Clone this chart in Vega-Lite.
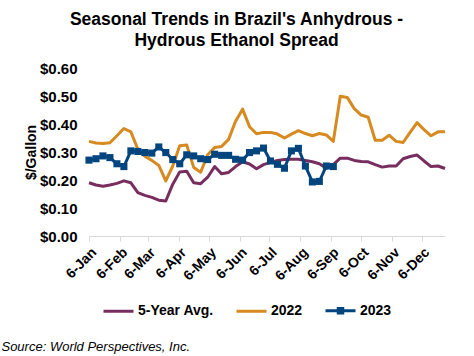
{
  "$schema": "https://vega.github.io/schema/vega-lite/v6.json",
  "background": "white",
  "padding": {"left": 1, "top": 10, "right": 5, "bottom": 5},
  "title": {"text": "Source: World Perspectives, Inc.", "orient": "bottom", "anchor": "start", "frame": "bounds", "font": "Liberation Sans", "fontSize": 13, "fontStyle": "italic", "fontWeight": "normal", "color": "#000000", "offset": 22, "dx": -23},
  "vconcat": [
    {
      "width": 356,
      "height": 168,
      "title": {"text": ["Seasonal Trends in Brazil's Anhydrous -", "Hydrous Ethanol Spread"], "font": "Liberation Sans", "fontSize": 17.5, "fontWeight": "bold", "color": "#000000", "anchor": "middle", "frame": "bounds", "lineHeight": 21, "offset": 12, "dx": 1},
      "data": {
        "values": [
          {"d":"2023-01-06","s":"5-Year Avg.","v":0.19},{"d":"2023-01-13","s":"5-Year Avg.","v":0.182},{"d":"2023-01-20","s":"5-Year Avg.","v":0.178},{"d":"2023-01-27","s":"5-Year Avg.","v":0.182},{"d":"2023-02-03","s":"5-Year Avg.","v":0.188},{"d":"2023-02-10","s":"5-Year Avg.","v":0.197},{"d":"2023-02-17","s":"5-Year Avg.","v":0.19},{"d":"2023-02-24","s":"5-Year Avg.","v":0.155},{"d":"2023-03-03","s":"5-Year Avg.","v":0.145},{"d":"2023-03-10","s":"5-Year Avg.","v":0.138},{"d":"2023-03-17","s":"5-Year Avg.","v":0.128},{"d":"2023-03-24","s":"5-Year Avg.","v":0.125},{"d":"2023-03-31","s":"5-Year Avg.","v":0.185},{"d":"2023-04-07","s":"5-Year Avg.","v":0.229},{"d":"2023-04-14","s":"5-Year Avg.","v":0.231},{"d":"2023-04-21","s":"5-Year Avg.","v":0.19},{"d":"2023-04-28","s":"5-Year Avg.","v":0.187},{"d":"2023-05-05","s":"5-Year Avg.","v":0.21},{"d":"2023-05-12","s":"5-Year Avg.","v":0.248},{"d":"2023-05-19","s":"5-Year Avg.","v":0.222},{"d":"2023-05-26","s":"5-Year Avg.","v":0.227},{"d":"2023-06-02","s":"5-Year Avg.","v":0.248},{"d":"2023-06-09","s":"5-Year Avg.","v":0.265},{"d":"2023-06-16","s":"5-Year Avg.","v":0.257},{"d":"2023-06-23","s":"5-Year Avg.","v":0.24},{"d":"2023-06-30","s":"5-Year Avg.","v":0.255},{"d":"2023-07-07","s":"5-Year Avg.","v":0.263},{"d":"2023-07-14","s":"5-Year Avg.","v":0.27},{"d":"2023-07-21","s":"5-Year Avg.","v":0.273},{"d":"2023-07-28","s":"5-Year Avg.","v":0.274},{"d":"2023-08-04","s":"5-Year Avg.","v":0.274},{"d":"2023-08-11","s":"5-Year Avg.","v":0.27},{"d":"2023-08-18","s":"5-Year Avg.","v":0.265},{"d":"2023-08-25","s":"5-Year Avg.","v":0.258},{"d":"2023-09-01","s":"5-Year Avg.","v":0.242},{"d":"2023-09-08","s":"5-Year Avg.","v":0.255},{"d":"2023-09-15","s":"5-Year Avg.","v":0.278},{"d":"2023-09-22","s":"5-Year Avg.","v":0.278},{"d":"2023-09-29","s":"5-Year Avg.","v":0.27},{"d":"2023-10-06","s":"5-Year Avg.","v":0.266},{"d":"2023-10-13","s":"5-Year Avg.","v":0.265},{"d":"2023-10-20","s":"5-Year Avg.","v":0.255},{"d":"2023-10-27","s":"5-Year Avg.","v":0.246},{"d":"2023-11-03","s":"5-Year Avg.","v":0.25},{"d":"2023-11-10","s":"5-Year Avg.","v":0.25},{"d":"2023-11-17","s":"5-Year Avg.","v":0.276},{"d":"2023-11-24","s":"5-Year Avg.","v":0.284},{"d":"2023-12-01","s":"5-Year Avg.","v":0.289},{"d":"2023-12-08","s":"5-Year Avg.","v":0.268},{"d":"2023-12-15","s":"5-Year Avg.","v":0.248},{"d":"2023-12-22","s":"5-Year Avg.","v":0.25},{"d":"2023-12-29","s":"5-Year Avg.","v":0.241},
          {"d":"2023-01-06","s":"2022","v":0.338},{"d":"2023-01-13","s":"2022","v":0.332},{"d":"2023-01-20","s":"2022","v":0.33},{"d":"2023-01-27","s":"2022","v":0.333},{"d":"2023-02-03","s":"2022","v":0.358},{"d":"2023-02-10","s":"2022","v":0.384},{"d":"2023-02-17","s":"2022","v":0.372},{"d":"2023-02-24","s":"2022","v":0.31},{"d":"2023-03-03","s":"2022","v":0.285},{"d":"2023-03-10","s":"2022","v":0.27},{"d":"2023-03-17","s":"2022","v":0.252},{"d":"2023-03-24","s":"2022","v":0.197},{"d":"2023-03-31","s":"2022","v":0.25},{"d":"2023-04-07","s":"2022","v":0.322},{"d":"2023-04-14","s":"2022","v":0.325},{"d":"2023-04-21","s":"2022","v":0.245},{"d":"2023-04-28","s":"2022","v":0.228},{"d":"2023-05-05","s":"2022","v":0.29},{"d":"2023-05-12","s":"2022","v":0.316},{"d":"2023-05-19","s":"2022","v":0.32},{"d":"2023-05-26","s":"2022","v":0.345},{"d":"2023-06-02","s":"2022","v":0.41},{"d":"2023-06-09","s":"2022","v":0.453},{"d":"2023-06-16","s":"2022","v":0.39},{"d":"2023-06-23","s":"2022","v":0.365},{"d":"2023-06-30","s":"2022","v":0.37},{"d":"2023-07-07","s":"2022","v":0.37},{"d":"2023-07-14","s":"2022","v":0.364},{"d":"2023-07-21","s":"2022","v":0.35},{"d":"2023-07-28","s":"2022","v":0.364},{"d":"2023-08-04","s":"2022","v":0.376},{"d":"2023-08-11","s":"2022","v":0.366},{"d":"2023-08-18","s":"2022","v":0.358},{"d":"2023-08-25","s":"2022","v":0.366},{"d":"2023-09-01","s":"2022","v":0.361},{"d":"2023-09-08","s":"2022","v":0.338},{"d":"2023-09-15","s":"2022","v":0.499},{"d":"2023-09-22","s":"2022","v":0.495},{"d":"2023-09-29","s":"2022","v":0.455},{"d":"2023-10-06","s":"2022","v":0.432},{"d":"2023-10-13","s":"2022","v":0.424},{"d":"2023-10-20","s":"2022","v":0.342},{"d":"2023-10-27","s":"2022","v":0.342},{"d":"2023-11-03","s":"2022","v":0.36},{"d":"2023-11-10","s":"2022","v":0.338},{"d":"2023-11-17","s":"2022","v":0.334},{"d":"2023-11-24","s":"2022","v":0.37},{"d":"2023-12-01","s":"2022","v":0.405},{"d":"2023-12-08","s":"2022","v":0.38},{"d":"2023-12-15","s":"2022","v":0.358},{"d":"2023-12-22","s":"2022","v":0.372},{"d":"2023-12-29","s":"2022","v":0.372},
          {"d":"2023-01-06","s":"2023","v":0.271},{"d":"2023-01-13","s":"2023","v":0.276},{"d":"2023-01-20","s":"2023","v":0.286},{"d":"2023-01-27","s":"2023","v":0.28},{"d":"2023-02-03","s":"2023","v":0.258},{"d":"2023-02-10","s":"2023","v":0.248},{"d":"2023-02-17","s":"2023","v":0.304},{"d":"2023-02-24","s":"2023","v":0.302},{"d":"2023-03-03","s":"2023","v":0.298},{"d":"2023-03-10","s":"2023","v":0.296},{"d":"2023-03-17","s":"2023","v":0.318},{"d":"2023-03-24","s":"2023","v":0.298},{"d":"2023-03-31","s":"2023","v":0.273},{"d":"2023-04-07","s":"2023","v":0.258},{"d":"2023-04-14","s":"2023","v":0.29},{"d":"2023-04-21","s":"2023","v":0.286},{"d":"2023-04-28","s":"2023","v":0.276},{"d":"2023-05-05","s":"2023","v":0.273},{"d":"2023-05-12","s":"2023","v":0.292},{"d":"2023-05-19","s":"2023","v":0.288},{"d":"2023-05-26","s":"2023","v":0.288},{"d":"2023-06-02","s":"2023","v":0.274},{"d":"2023-06-09","s":"2023","v":0.271},{"d":"2023-06-16","s":"2023","v":0.298},{"d":"2023-06-23","s":"2023","v":0.304},{"d":"2023-06-30","s":"2023","v":0.314},{"d":"2023-07-07","s":"2023","v":0.268},{"d":"2023-07-14","s":"2023","v":0.256},{"d":"2023-07-21","s":"2023","v":0.242},{"d":"2023-07-28","s":"2023","v":0.304},{"d":"2023-08-04","s":"2023","v":0.313},{"d":"2023-08-11","s":"2023","v":0.25},{"d":"2023-08-18","s":"2023","v":0.193},{"d":"2023-08-25","s":"2023","v":0.195},{"d":"2023-09-01","s":"2023","v":0.25},{"d":"2023-09-08","s":"2023","v":0.248}
        ],
        "format": {"parse": {"d": "date"}}
      },
      "encoding": {
        "x": {
          "field": "d", "type": "temporal",
          "scale": {"type": "utc", "domain": [{"year": 2023, "month": 1, "date": 6, "utc": true}, {"year": 2023, "month": 12, "date": 29, "utc": true}]},
          "axis": {
            "title": null, "format": "%-d-%b", "labelAngle": -45, "grid": false,
            "values": [
              {"year": 2023, "month": 1, "date": 6, "utc": true},{"year": 2023, "month": 2, "date": 6, "utc": true},{"year": 2023, "month": 3, "date": 6, "utc": true},{"year": 2023, "month": 4, "date": 6, "utc": true},{"year": 2023, "month": 5, "date": 6, "utc": true},{"year": 2023, "month": 6, "date": 6, "utc": true},{"year": 2023, "month": 7, "date": 6, "utc": true},{"year": 2023, "month": 8, "date": 6, "utc": true},{"year": 2023, "month": 9, "date": 6, "utc": true},{"year": 2023, "month": 10, "date": 6, "utc": true},{"year": 2023, "month": 11, "date": 6, "utc": true},{"year": 2023, "month": 12, "date": 6, "utc": true}
            ],
            "domainColor": "#D9D9D9", "tickColor": "#D9D9D9", "tickSize": 5, "labelPadding": 4,
            "labelFont": "Liberation Sans", "labelFontSize": 14, "labelFontWeight": "bold", "labelColor": "#000000", "labelFlush": false, "labelOverlap": false
          }
        },
        "y": {
          "field": "v", "type": "quantitative",
          "scale": {"domain": [0, 0.6]},
          "axis": {
            "title": "$/Gallon", "format": "$.2f", "values": [0, 0.1, 0.2, 0.3, 0.4, 0.5, 0.6],
            "grid": false, "domain": false, "ticks": false, "labelPadding": 12,
            "labelFont": "Liberation Sans", "labelFontSize": 15, "labelFontWeight": "bold", "labelColor": "#000000",
            "titleFont": "Liberation Sans", "titleFontSize": 14, "titleFontWeight": "bold", "titleColor": "#000000", "titlePadding": 1
          }
        }
      },
      "layer": [
        {
          "mark": {"type": "line", "strokeWidth": 3, "strokeJoin": "round"},
          "encoding": {
            "color": {
              "field": "s", "type": "nominal",
              "scale": {"domain": ["5-Year Avg.", "2022", "2023"], "range": ["#772E5E", "#D68A1F", "#00457E"]},
              "legend": {
                "title": null, "orient": "none", "direction": "horizontal", "legendX": 13, "legendY": 226,
                "symbolSize": 900, "symbolStrokeWidth": 3, "labelOffset": 3, "columnPadding": 16, "padding": 0,
                "labelFont": "Liberation Sans", "labelFontSize": 14, "labelFontWeight": "bold", "labelColor": "#000000",
                "encode": {"symbols": {"update": {
                  "shape": {"signal": "datum.value === '2023' ? 'M-1,0H1M-0.15,-0.15H0.15V0.15H-0.15Z' : 'M-1,0H1'"},
                  "fill": {"value": "#00457E"},
                  "strokeWidth": {"value": 3}
                }}}
              }
            }
          }
        },
        {
          "transform": [{"filter": "datum.s === '2023'"}],
          "mark": {"type": "point", "shape": "square", "filled": true, "size": 50, "opacity": 1},
          "encoding": {"color": {"value": "#00457E"}}
        }
      ]
    }
  ],
  "config": {
    "view": {"stroke": null},
    "font": "Liberation Sans"
  }
}
